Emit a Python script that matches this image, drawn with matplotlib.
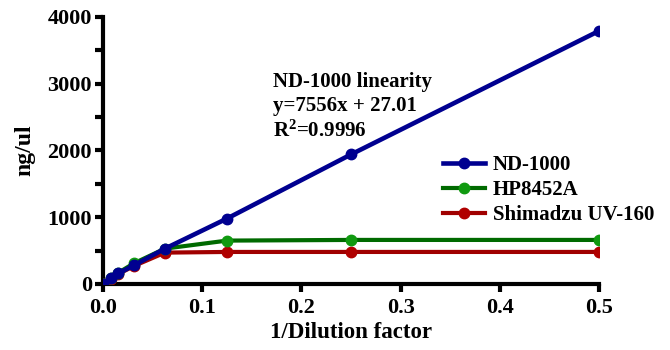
import matplotlib.pyplot as plt

# 1/dilution factor
dilution = [0, 1 / 128, 1 / 64, 1 / 32, 1 / 16, 1 / 8, 1 / 4, 1 / 2]
nd1000 = [0, 90, 160, 280, 530, 980, 1940, 3790]
hp8452a = [0, 90, 170, 310, 530, 650, 660, 660]
shimadzu = [0, 80, 150, 270, 470, 480, 480, 480]

plt.rcParams['font.family'] = ['Liberation Serif', 'DejaVu Serif']
plt.rcParams['font.weight'] = 'bold'
plt.rcParams['mathtext.fontset'] = 'custom'
plt.rcParams['mathtext.rm'] = 'Liberation Serif:bold'
plt.rcParams['mathtext.default'] = 'rm'

fig = plt.figure(figsize=(6.7, 3.5), dpi=100)
ax = fig.add_axes([0.1537, 0.1886, 0.7403, 0.763])

ax.plot(dilution, shimadzu, color='#a00000', lw=3, marker='o', ms=7.5, mfc='#b00000', mec='#b00000',
        label='Shimadzu UV-160', zorder=3)
ax.plot(dilution, hp8452a, color='#006a00', lw=3, marker='o', ms=7.5, mfc='#109a10', mec='#109a10',
        label='HP8452A', zorder=4)
ax.plot(dilution, nd1000, color='#000090', lw=3.3, marker='o', ms=7.5, label='ND-1000', zorder=5)

ax.set_xlim(0, 0.5)
ax.set_ylim(0, 4000)
ax.set_xticks([0, 0.1, 0.2, 0.3, 0.4, 0.5])
ax.set_xticklabels(['0.0', '0.1', '0.2', '0.3', '0.4', '0.5'])
ax.set_yticks([0, 1000, 2000, 3000, 4000])
ax.set_yticks([500, 1500, 2500, 3500], minor=True)
for side in ['top', 'right']:
    ax.spines[side].set_visible(False)
for side in ['left', 'bottom']:
    ax.spines[side].set_linewidth(3)
ax.tick_params(which='both', width=3, length=6, labelsize=16)
ax.tick_params(axis='x', pad=4)
ax.tick_params(axis='y', pad=2)
ax.set_xlabel('1/Dilution factor', fontsize=16.5, fontweight='bold', labelpad=3)
ax.set_ylabel('ng/ul', fontsize=17, fontweight='bold', labelpad=9)

ax.text(0.171, 3180, 'ND-1000 linearity\ny=7556x + 27.01\nR$^2$=0.9996', fontsize=15,
        fontweight='bold', linespacing=1.28, va='top')

handles, labels = ax.get_legend_handles_labels()
ax.legend(handles[::-1], labels[::-1], loc='upper left', bbox_to_anchor=(0.661, 0.557),
          bbox_transform=fig.transFigure, frameon=False, fontsize=15, handlelength=2.0,
          borderaxespad=0, borderpad=0, labelspacing=0.25, handletextpad=0.4)

fig.savefig('out.png')
